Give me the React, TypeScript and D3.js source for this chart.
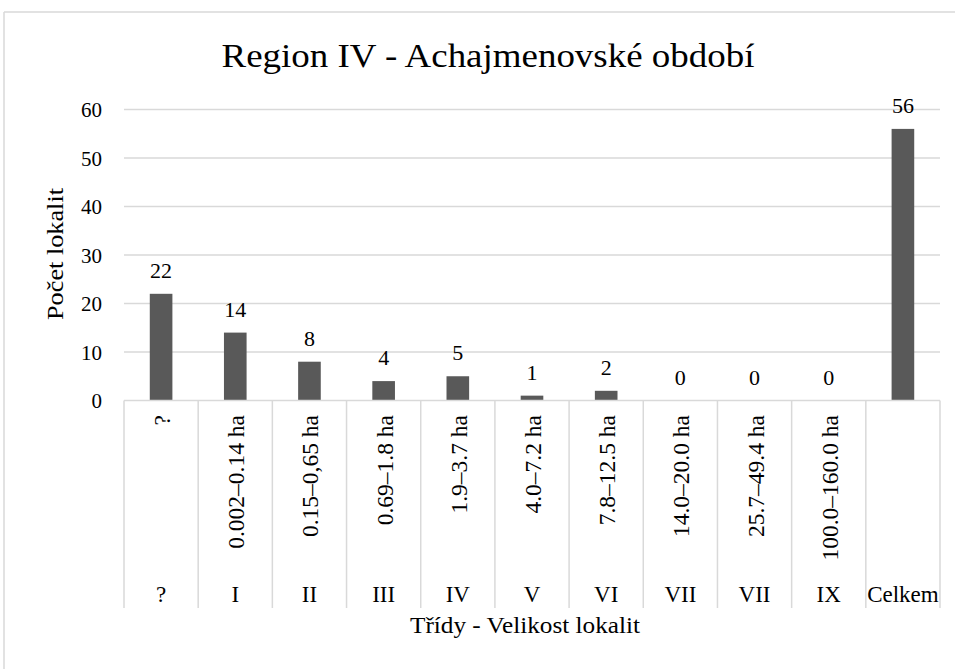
import React from "react";
import * as d3 from "d3";

const classes = ["?", "I", "II", "III", "IV", "V", "VI", "VII", "VII", "IX", "Celkem"];
const sizeRanges = ["?", "0.002–0.14 ha", "0.15–0,65 ha", "0.69–1.8 ha", "1.9–3.7 ha", "4.0–7.2 ha", "7.8–12.5 ha", "14.0–20.0 ha", "25.7–49.4 ha", "100.0–160.0 ha", ""];
const counts = [22, 14, 8, 4, 5, 1, 2, 0, 0, 0, 56];
const yTicks = [0, 10, 20, 30, 40, 50, 60];

const W = 955;
const H = 669;
const FONT = "'Liberation Serif', 'Times New Roman', serif";
const GRID = "#d9d9d9";
const BAR = "#595959";

export default function App() {
  const x = d3.scaleBand<number>().domain(d3.range(classes.length)).range([124, 940]).paddingInner(0).paddingOuter(0);
  const y = d3.scaleLinear().domain([0, 60]).range([400.5, 109.5]);
  const bw = x.bandwidth() * 0.305;
  const axisBottom = 608;

  return (
    <svg width={W} height={H} style={{ position: "absolute", left: 0, top: 0, background: "#fff" }} fontFamily={FONT}>
      <rect x={0} y={0} width={W} height={H} fill="#fff" />
      {/* frame */}
      <line x1={4} y1={12} x2={4} y2={H} stroke={GRID} strokeWidth={1.5} />
      <line x1={4} y1={12} x2={W} y2={12} stroke={GRID} strokeWidth={1.5} />

      {/* title */}
      <text x={488} y={67} fontSize={34} textAnchor="middle" fill="#000" textLength={533} lengthAdjust="spacingAndGlyphs">
        Region IV - Achajmenovské  období
      </text>

      {/* gridlines */}
      {yTicks.map((t) => (
        <g key={t}>
          {t !== 0 && <line x1={124} x2={940} y1={y(t)} y2={y(t)} stroke={GRID} strokeWidth={1.5} />}
          <text x={102} y={y(t) + 7.5} fontSize={21} textAnchor="end" fill="#000">
            {t}
          </text>
        </g>
      ))}

      {/* y axis title */}
      <text
        transform={`translate(63.3,254) rotate(-90)`}
        fontSize={23}
        textAnchor="middle"
        fill="#000"
        textLength={132}
        lengthAdjust="spacingAndGlyphs"
      >
        Počet lokalit
      </text>

      {/* bars */}
      {counts.map((v, i) => {
        const cx = (x(i) as number) + x.bandwidth() / 2;
        return (
          <g key={i}>
            {v > 0 && <rect x={cx - bw / 2} y={y(v)} width={bw} height={y(0) - y(v)} fill={BAR} />}
            <text x={cx} y={y(v) - 16} fontSize={22} textAnchor="middle" fill="#000">
              {v}
            </text>
          </g>
        );
      })}

      {/* x axis line and category separators */}
      <line x1={124} x2={940} y1={y(0)} y2={y(0)} stroke={GRID} strokeWidth={1.5} />
      {d3.range(classes.length + 1).map((i) => {
        const xx = i < classes.length ? (x(i) as number) : 940;
        return <line key={i} x1={xx} x2={xx} y1={y(0)} y2={axisBottom} stroke={GRID} strokeWidth={1.5} />;
      })}

      {/* rotated size labels */}
      {sizeRanges.map((s, i) => {
        const cx = (x(i) as number) + x.bandwidth() / 2;
        return s ? (
          <text key={i} transform={`translate(${cx + 9},415) rotate(-90)`} fontSize={23.5} textAnchor="end" fill="#000">
            {s}
          </text>
        ) : null;
      })}

      {/* class labels */}
      {classes.map((c, i) => {
        const cx = (x(i) as number) + x.bandwidth() / 2;
        return (
          <text key={i} x={cx} y={602} fontSize={23} textAnchor="middle" fill="#000">
            {c}
          </text>
        );
      })}

      {/* x axis title */}
      <text x={525} y={633} fontSize={23} textAnchor="middle" fill="#000" textLength={230} lengthAdjust="spacingAndGlyphs">
        Třídy - Velikost lokalit
      </text>
    </svg>
  );
}
